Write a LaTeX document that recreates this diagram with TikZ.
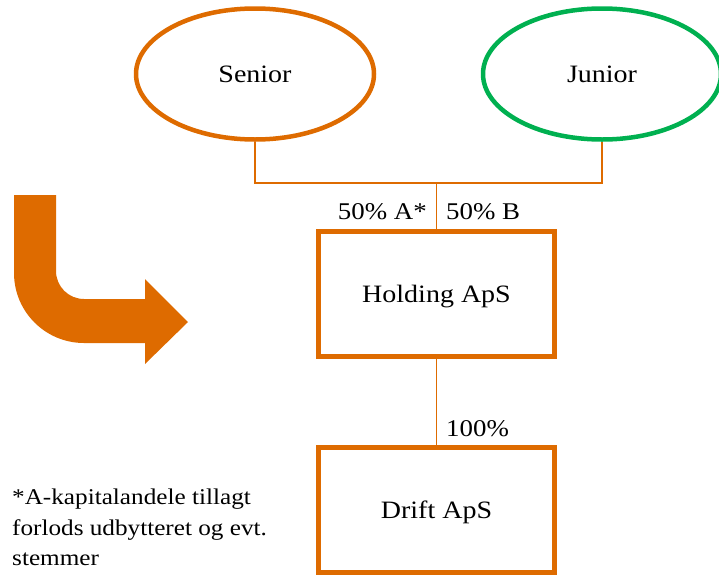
\documentclass[tikz,border=0pt]{standalone}
\usepackage{fontspec}
\setmainfont[FakeStretch=1.12]{Liberation Serif}
\usetikzlibrary{shapes.geometric}
\definecolor{corange}{RGB}{222,107,0}
\definecolor{cgreen}{RGB}{0,176,80}
\begin{document}
\begin{tikzpicture}[x=1pt,y=-1pt,
  owner/.style={ellipse,line width=4.5pt,minimum width=238pt,minimum height=131pt,font=\fontsize{25}{30}\selectfont},
  company/.style={rectangle,draw=corange,line width=4.5pt,minimum width=236pt,minimum height=125pt,text depth=0pt,font=\fontsize{25}{30}\selectfont},
  link/.style={draw=corange,line width=1.6pt},
  share/.style={font=\fontsize{24}{28}\selectfont,inner sep=0pt}]
\useasboundingbox (0,0) rectangle (719,581);
% owners
\node[owner,draw=corange] (senior) at (255,74) {Senior};
\node[owner,draw=cgreen] (junior) at (602,74) {Junior};
% companies
\node[company] (holding) at (436.5,294) {Holding ApS};
\node[company] (drift) at (436.5,510) {Drift ApS};
% ownership lines
\coordinate (join) at (436.5,183);
\draw[link] (senior.south) |- (join) -| (junior.south);
\draw[link] (join) -- (holding.north);
\draw[link] (holding.south) -- (drift.north);
% share labels
\node[share,anchor=east] (shA) at (427,212) {50\% A*};
\node[share,anchor=west] (shB) at (446,212) {50\% B};
\node[share,anchor=west] (shD) at (446,429) {100\%};
% footnote
\node[anchor=north west,align=left,inner sep=0pt,font=\fontsize{22.5}{30.5}\selectfont] (note) at (12,489)
  {*A-kapitalandele tillagt\\forlods udbytteret og evt.\\stemmer};
% bent arrow
\fill[corange] (14,195) -- (56,195) -- (56,271)
  arc[start angle=180,end angle=90,radius=28] -- (145,299) -- (145,279)
  -- (188,322) -- (145,364) -- (145,343) -- (84,343)
  arc[start angle=90,end angle=180,radius=70] -- cycle;
\end{tikzpicture}
\end{document}
